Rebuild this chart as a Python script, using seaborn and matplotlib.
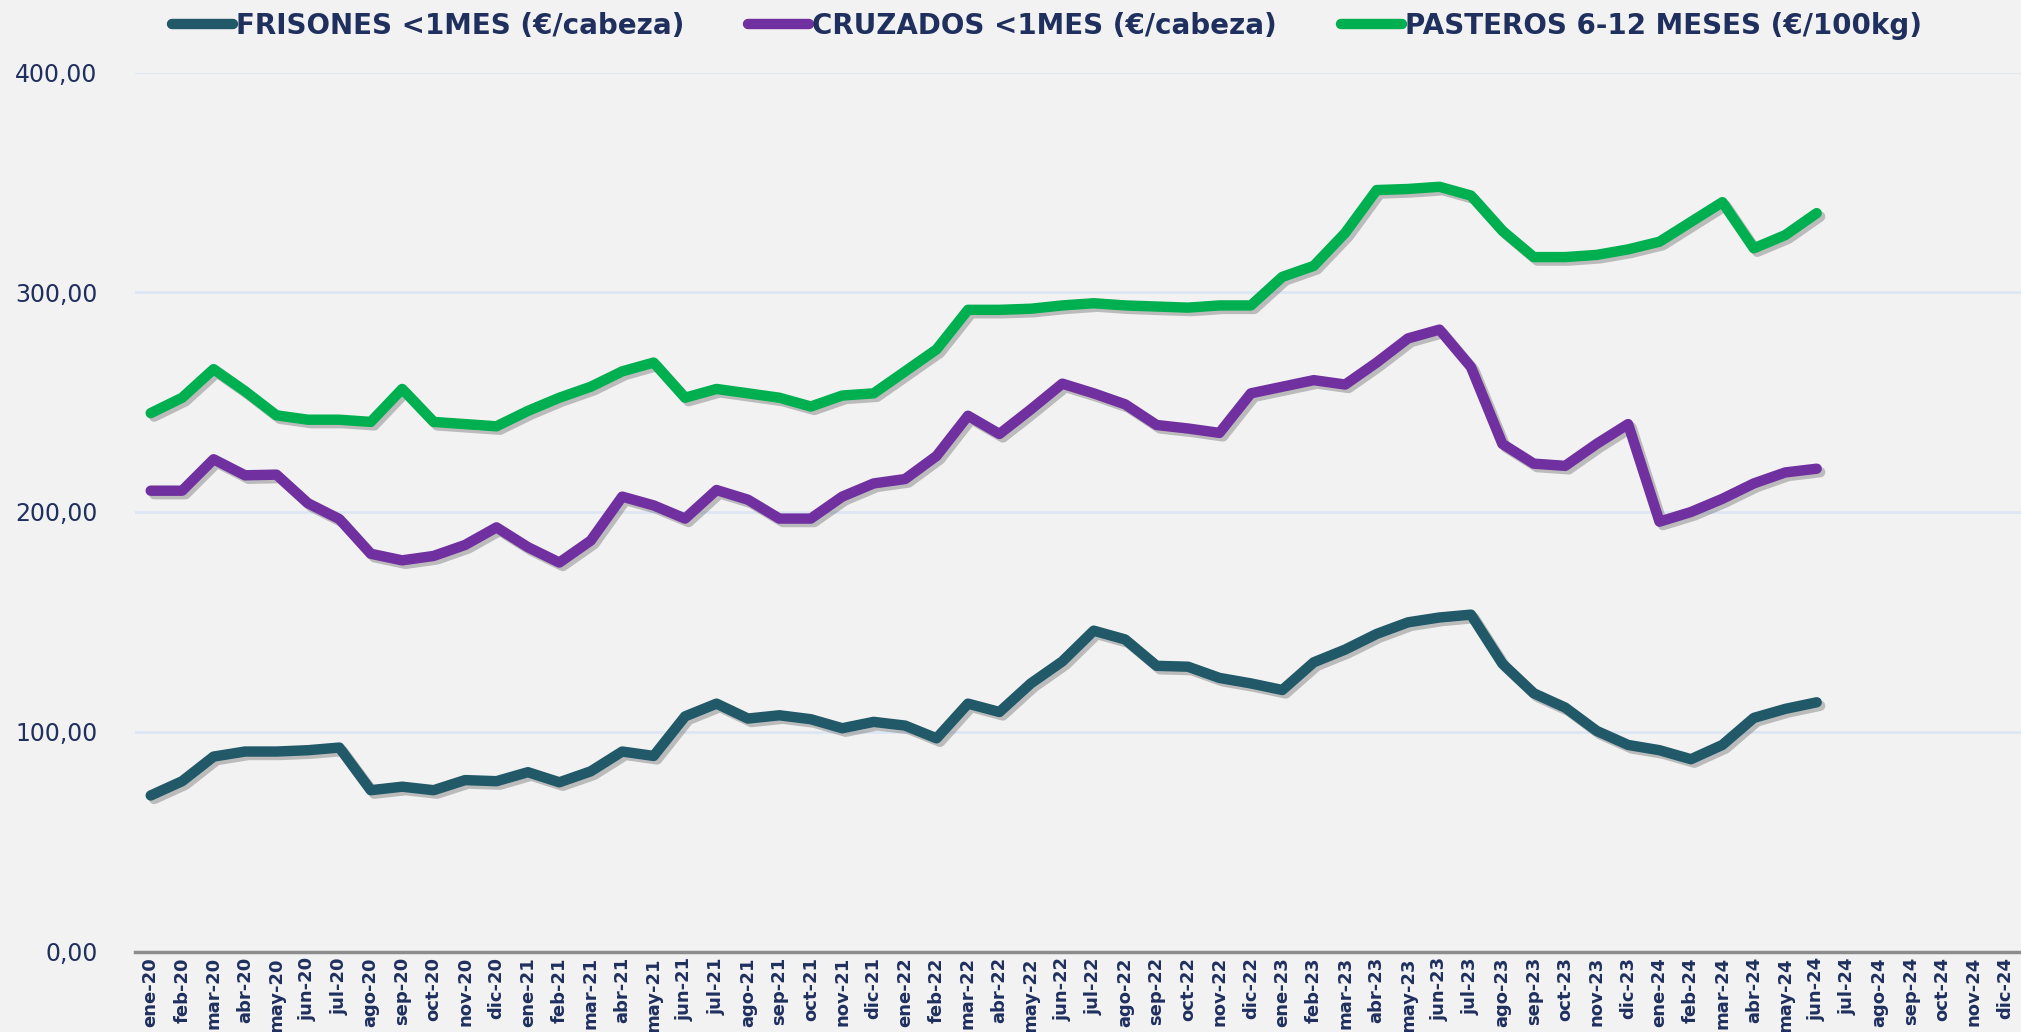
import numpy as np
import pandas as pd
import matplotlib
matplotlib.use('Agg')
import matplotlib.pyplot as plt
import matplotlib.patheffects as pe
from matplotlib.lines import Line2D
from matplotlib.ticker import FuncFormatter
import seaborn as sns

# ---------------- data ----------------
mes_abbr = ['ene', 'feb', 'mar', 'abr', 'may', 'jun', 'jul', 'ago', 'sep', 'oct', 'nov', 'dic']
years = ['20', '21', '22', '23', '24']
months = [f'{m}-{y}' for y in years for m in mes_abbr]

frisones = [71, 77.5, 88.7, 91, 91, 91.6, 92.8, 73.4, 75, 73.4, 78, 77.5,
            81.6, 77, 82, 91, 89, 107, 112.8, 106, 107.5, 105.7, 101.6, 104.5,
            102.8, 97, 112.8, 109, 122, 132, 146, 142, 130, 129.6, 124.5, 122,
            119, 131.6, 137.4, 144.5, 149.8, 152, 153.3, 131, 117.5, 111, 100.4, 94,
            91.6, 87.5, 94, 106.3, 110.4, 113.4]
cruzados = [209.7, 209.7, 224, 216.7, 217, 204, 196.8, 181, 178, 180, 185, 193,
            184, 177, 187, 207, 203, 197, 210, 205.6, 197, 197, 207, 213,
            215, 225.5, 243.8, 235.5, 246.7, 258.4, 254, 249, 239.6, 238, 236, 254,
            257, 260, 258, 268, 279, 283, 266, 231, 222, 221, 231, 240,
            195.6, 200, 206, 213, 218, 219.7]
pasteros = [245, 252, 265, 255, 244, 242, 242, 241, 256, 241, 240, 239,
            246, 252, 257, 264, 268, 252, 256, 254, 252, 248, 253, 254,
            264, 274, 292, 292, 292.5, 294, 295, 294, 293.5, 293, 294, 294,
            307, 312, 327, 346.5, 347, 348, 344, 328, 316, 316, 317, 319.5,
            323, 332, 341, 320, 326, 336]

series_names = ['FRISONES <1MES (€/cabeza)', 'CRUZADOS <1MES (€/cabeza)',
                'PASTEROS 6-12 MESES (€/100kg)']
series_values = [frisones, cruzados, pasteros]
colors = ['#215968', '#7030A0', '#00B050']

rows = []
for name, vals in zip(series_names, series_values):
    for i, v in enumerate(vals):
        rows.append({'idx': i, 'mes': months[i], 'valor': v, 'serie': name})
df = pd.DataFrame(rows)

# ---------------- style ----------------
sns.set_theme(style='white')
bg = '#F2F2F2'
navy = '#1F2F5E'
plt.rcParams['font.family'] = ['DejaVu Sans']

W, H = 2021, 1032
fig = plt.figure(figsize=(W / 100, H / 100), dpi=100, facecolor=bg)
ax = fig.add_axes([135 / W, 80.5 / H, (W - 135) / W, 879 / H])
ax.set_facecolor(bg)

sns.lineplot(data=df, x='idx', y='valor', hue='serie', palette=colors,
             hue_order=series_names, linewidth=7.5, legend=False, sort=False, ax=ax)
for line in ax.get_lines():
    line.set_solid_capstyle('round')
    line.set_solid_joinstyle('round')
    line.set_path_effects([pe.SimpleLineShadow(offset=(2.5, -2.5), shadow_color='#555555', alpha=0.35),
                           pe.Normal()])

ax.set_xlim(-0.5, len(months) - 0.5)
ax.set_ylim(0, 400)
ax.set_yticks([0, 100, 200, 300, 400])
ax.yaxis.set_major_formatter(FuncFormatter(lambda v, p: f'{v:.2f}'.replace('.', ',')))
ax.set_xticks(range(len(months)))
ax.set_xticklabels(months, rotation=90, fontsize=13, fontweight='bold', color=navy)
ax.tick_params(axis='x', length=0, pad=4)
ax.tick_params(axis='y', length=0, pad=27, labelsize=17, labelcolor=navy)
ax.set_xlabel('')
ax.set_ylabel('')

ax.grid(axis='y', color='#DCE6F2', linewidth=2)
ax.grid(axis='x', visible=False)
ax.set_axisbelow(True)
for s in ['top', 'right', 'left']:
    ax.spines[s].set_visible(False)
ax.spines['bottom'].set_color('#8C8C8C')
ax.spines['bottom'].set_linewidth(2.5)

handles = [Line2D([0], [0], color=c, lw=7.5, solid_capstyle='round') for c in colors]
fig.legend(handles, series_names, loc='center', bbox_to_anchor=(1047 / W, 1 - 26 / H),
           ncol=3, frameon=False,
           prop={'weight': 'bold', 'size': 20},
           handlelength=2.2, handletextpad=0.1, columnspacing=2.3, labelcolor=navy)

fig.savefig('out.png', dpi=100, facecolor=bg)
